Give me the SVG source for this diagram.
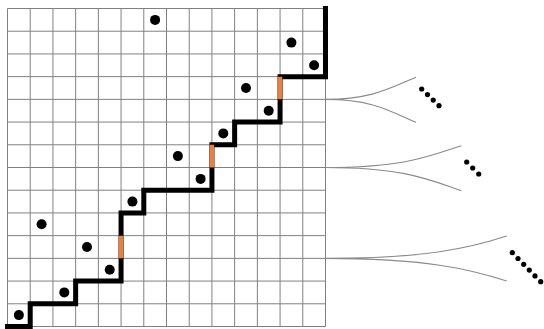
<svg xmlns="http://www.w3.org/2000/svg" width="544" height="329" viewBox="0 0 544 329">
<style>
.g{stroke:#808080;stroke-width:1;fill:none}
.fan{stroke:#8a8a8a;stroke-width:1.1;fill:none}
.pt{fill:#000}
.path{stroke:#000;stroke-width:5;fill:none;stroke-linecap:square;stroke-linejoin:miter}
.or{stroke:#ee7f3a;stroke-width:4.4;fill:none;stroke-linecap:butt}
</style>
<rect width="544" height="329" fill="#fff"/>
<g id="grid" class="g">
<path d="M7.5,8.5V326.5M30.21,8.5V326.5M52.93,8.5V326.5M75.64,8.5V326.5M98.36,8.5V326.5M121.07,8.5V326.5M143.79,8.5V326.5M166.5,8.5V326.5M189.21,8.5V326.5M211.93,8.5V326.5M234.64,8.5V326.5M257.36,8.5V326.5M280.07,8.5V326.5M302.79,8.5V326.5M325.5,8.5V326.5"/>
<path d="M7.5,8.5H325.5M7.5,31.21H325.5M7.5,53.93H325.5M7.5,76.64H325.5M7.5,99.36H325.5M7.5,122.07H325.5M7.5,144.79H325.5M7.5,167.5H325.5M7.5,190.21H325.5M7.5,212.93H325.5M7.5,235.64H325.5M7.5,258.36H325.5M7.5,281.07H325.5M7.5,303.79H325.5M7.5,326.5H325.5"/>
</g>
<g id="connectors">
<path class="fan" d="M325.5,99.4C372,99.4 390,88 416,77.3M325.5,99.4C372,99.4 390,111 416,122.3"/>
<path class="fan" d="M325.5,167.5C405,167.5 430,156 461.3,145.7M325.5,167.5C405,167.5 430,180 461.3,190.7"/>
<path class="fan" d="M325.5,258.4C425,258.4 470,248 506.7,236M325.5,258.4C425,258.4 470,269 506.7,281"/>
</g>
<g id="staircase">
<path class="path" d="M7.5,326.5H30.21V303.79H75.64V281.07H121.07V212.93H143.79V190.21H211.93V144.79H234.64V122.07H280.07V76.64H325.5V8.5"/>
<path class="or" d="M121.07,258.36V235.64M211.93,167.5V144.79M280.07,99.36V76.64"/>
</g>
<g id="points" class="pt">
<circle cx="155.1" cy="19.9" r="5"/>
<circle cx="291.4" cy="42.6" r="5"/>
<circle cx="314.1" cy="65.3" r="5"/>
<circle cx="246.0" cy="88.0" r="5"/>
<circle cx="268.7" cy="110.7" r="5"/>
<circle cx="223.3" cy="133.4" r="5"/>
<circle cx="177.9" cy="156.1" r="5"/>
<circle cx="200.6" cy="178.9" r="5"/>
<circle cx="132.4" cy="201.6" r="5"/>
<circle cx="41.6" cy="224.3" r="5"/>
<circle cx="87.0" cy="247.0" r="5"/>
<circle cx="109.7" cy="269.7" r="5"/>
<circle cx="64.3" cy="292.4" r="5"/>
<circle cx="18.9" cy="315.1" r="5"/>
</g>
<g id="ellipsis1" class="pt">
<circle cx="421.7" cy="89" r="2.6"/>
<circle cx="427.5" cy="94.6" r="2.6"/>
<circle cx="433.2" cy="100.1" r="2.6"/>
<circle cx="439" cy="105.7" r="2.6"/>
</g>
<g id="ellipsis2" class="pt">
<circle cx="466.7" cy="162" r="2.6"/>
<circle cx="472.7" cy="168" r="2.6"/>
<circle cx="478.7" cy="174" r="2.6"/>
</g>
<g id="ellipsis3" class="pt">
<circle cx="512.3" cy="252.7" r="2.6"/>
<circle cx="518" cy="258.5" r="2.6"/>
<circle cx="523.7" cy="264.3" r="2.6"/>
<circle cx="529.3" cy="270.1" r="2.6"/>
<circle cx="535" cy="275.9" r="2.6"/>
<circle cx="540.7" cy="281.7" r="2.6"/>
</g>
</svg>
